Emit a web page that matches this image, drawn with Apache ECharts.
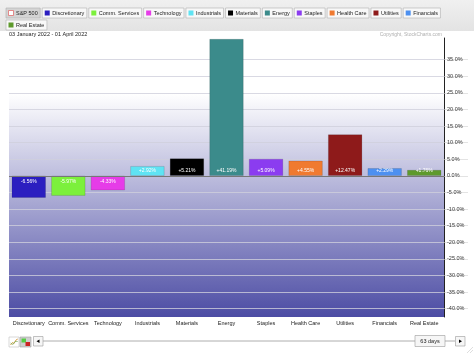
<!DOCTYPE html>
<html>
<head>
<meta charset="utf-8">
<script src="https://cdn.jsdelivr.net/npm/echarts@6/dist/echarts.min.js"></script>
<style>
html, body { margin: 0; padding: 0; background: #fff; }
#chart { width: 474px; height: 355px; }
</style>
</head>
<body>
<div id="chart"></div>
<script>
// sector performance, 03 Jan 2022 - 01 Apr 2022
const sectors = ['Discretionary', 'Comm. Services', 'Technology', 'Industrials', 'Materials', 'Energy',
    'Staples', 'Health Care', 'Utilities', 'Financials', 'Real Estate']
const changes = [-6.56, -5.97, -4.33, 2.92, 5.21, 41.19, 5.09, 4.55, 12.47, 2.29, 1.76]
const colors = ['#2b1ec0', '#7cf03c', '#e63ce8', '#5fe3f3', '#000000', '#3b8b8b',
    '#8b3cf0', '#f07a30', '#8e1a1a', '#4d90f0', '#5e9a2c']
const yTicks = [-40, -35, -30, -25, -20, -15, -10, -5, 0, 5, 10, 15, 20, 25, 30, 35]
const legendNames = ['S&P 500'].concat(sectors)

const FONT = '"Liberation Sans", Arial, Helvetica, sans-serif'

// measure text so the legend buttons fit their labels
const ctx = document.createElement('canvas').getContext('2d')
ctx.font = '5.5px ' + FONT
function textW(s) {
    return ctx.measureText(s).width
}

const graphics = []
// grey band behind the legend buttons
graphics.push({
    type: 'rect',
    shape: { x: 0, y: 0, width: 474, height: 31 },
    style: {
        fill: new echarts.graphic.LinearGradient(0, 0, 0, 1, [
            { offset: 0, color: '#f0f0f0' },
            { offset: 1, color: '#e3e3e3' }
        ])
    }
})
let lx = 6
let ly = 8
legendNames.forEach((name, i) => {
    const w = textW(name) + 12.5
    if (lx + w > 448) {
        lx = 6
        ly += 12
    }
    graphics.push({
        type: 'rect',
        shape: { x: lx, y: ly, width: w, height: 10 },
        style: { fill: i === 0 ? '#d4d4d4' : '#f8f8f8', stroke: '#b0b0b0', lineWidth: 0.6 }
    })
    graphics.push({
        type: 'rect',
        shape: { x: lx + 2.5, y: ly + 2.5, width: 5, height: 5 },
        style: i === 0 ? { fill: '#fff', stroke: '#e07070', lineWidth: 0.8 } : { fill: colors[i - 1] }
    })
    graphics.push({
        type: 'text',
        x: lx + 10,
        y: ly + 5.3,
        style: { text: name, fontSize: 5.5, fontFamily: FONT, fill: '#222', verticalAlign: 'middle' }
    })
    lx += w + 2
})

graphics.push({
    type: 'text', x: 9, y: 34.5,
    style: { text: '03 January 2022 - 01 April 2022', fontSize: 5.5, fontFamily: FONT, fill: '#222', verticalAlign: 'middle' }
})
graphics.push({
    type: 'text', x: 442, y: 34.5,
    style: { text: 'Copyright, StockCharts.com', fontSize: 5, fontFamily: FONT, fill: '#b0b0b0', align: 'right', verticalAlign: 'middle' }
})

// bottom controls
graphics.push(
    { type: 'rect', shape: { x: 9, y: 337, width: 10, height: 10 }, style: { fill: '#fff', stroke: '#c0c0c0', lineWidth: 0.6 } },
    { type: 'polyline', shape: { points: [[10.5, 345], [12.5, 342.5], [14, 343.5], [16, 340], [17.8, 339]] }, style: { stroke: '#d08a20', lineWidth: 0.8, fill: null } },
    { type: 'polyline', shape: { points: [[10.5, 343], [13, 344.5], [15, 341.5], [17.8, 341.5]] }, style: { stroke: '#6aa84f', lineWidth: 0.6, fill: null } },
    { type: 'rect', shape: { x: 20, y: 337, width: 11, height: 10 }, style: { fill: '#cfcfcf', stroke: '#a0a0a0', lineWidth: 0.6 } },
    { type: 'rect', shape: { x: 21.5, y: 338.5, width: 4.5, height: 4 }, style: { fill: '#55cc44' } },
    { type: 'rect', shape: { x: 25.5, y: 342, width: 4.5, height: 4 }, style: { fill: '#cc2222' } },
    { type: 'rect', shape: { x: 33.5, y: 336.5, width: 9.5, height: 9.5 }, style: { fill: '#f6f6f6', stroke: '#9a9a9a', lineWidth: 0.6 } },
    { type: 'polygon', shape: { points: [[36.5, 341.2], [39.5, 339.4], [39.5, 343]] }, style: { fill: '#000' } },
    { type: 'line', shape: { x1: 43, y1: 341, x2: 415, y2: 341 }, style: { stroke: '#9a9a9a', lineWidth: 0.8 } },
    { type: 'rect', shape: { x: 415, y: 335.5, width: 30, height: 11 }, style: { fill: '#f6f6f6', stroke: '#9a9a9a', lineWidth: 0.6 } },
    { type: 'text', x: 430, y: 341.3, style: { text: '63 days', fontSize: 5.5, fontFamily: FONT, fill: '#222', align: 'center', verticalAlign: 'middle' } },
    { type: 'line', shape: { x1: 445, y1: 341, x2: 455, y2: 341 }, style: { stroke: '#9a9a9a', lineWidth: 0.8 } },
    { type: 'rect', shape: { x: 455.5, y: 336.5, width: 9.5, height: 9.5 }, style: { fill: '#f6f6f6', stroke: '#9a9a9a', lineWidth: 0.6 } },
    { type: 'polygon', shape: { points: [[459, 339.4], [462, 341.2], [459, 343]] }, style: { fill: '#000' } },
    { type: 'line', shape: { x1: 467, y1: 353, x2: 473, y2: 347 }, style: { stroke: '#c8c8c8', lineWidth: 0.6 } },
    { type: 'line', shape: { x1: 470, y1: 353, x2: 473, y2: 350 }, style: { stroke: '#c8c8c8', lineWidth: 0.6 } }
)

const barData = changes.map((v, i) => ({
    value: v,
    itemStyle: { color: colors[i] },
    label: { position: v >= 0 ? 'insideBottom' : 'insideTop' }
}))

const chart = echarts.init(document.getElementById('chart'))
chart.setOption({
    backgroundColor: '#fff',
    animation: false,
    textStyle: { fontFamily: FONT },
    graphic: graphics,
    grid: {
        left: 9,
        right: 30,
        top: 38,
        bottom: 38,
        show: true,
        borderWidth: 0,
        backgroundColor: new echarts.graphic.LinearGradient(0, 0, 0, 1, [
            { offset: 0, color: '#ffffff' },
            { offset: 0.2, color: '#ffffff' },
            { offset: 1, color: '#4c4ca4' }
        ])
    },
    xAxis: {
        type: 'category',
        data: sectors,
        axisLine: { show: false },
        axisTick: { show: false },
        axisLabel: { interval: 0, fontSize: 5.5, color: '#222', margin: 3 }
    },
    yAxis: {
        type: 'value',
        position: 'right',
        min: -42.5,
        max: 41.5,
        axisLine: { show: true, lineStyle: { color: '#222', width: 1 } },
        axisTick: { show: true, customValues: yTicks, length: 24, lineStyle: { color: '#d0d0d0', width: 0.6 } },
        axisLabel: {
            customValues: yTicks,
            fontSize: 5.5,
            color: '#333',
            margin: 3,
            padding: [0, 0, 4, 0],
            formatter: v => v.toFixed(1) + '%'
        },
        splitLine: { show: true, lineStyle: { color: '#cfcfdc', width: 0.8 } }
    },
    series: [
        {
            type: 'bar',
            barCategoryGap: '14%',
            data: barData,
            itemStyle: { borderColor: 'rgba(0,0,0,0.25)', borderWidth: 0.5 },
            label: {
                show: true,
                fontSize: 5,
                color: '#fff',
                distance: 3,
                formatter: p => (p.value > 0 ? '+' : '') + p.value.toFixed(2) + '%'
            },
            markLine: {
                silent: true,
                symbol: ['none', 'none'],
                label: { show: false },
                lineStyle: { color: '#777', width: 1, type: 'solid' },
                data: [{ yAxis: 0 }]
            }
        }
    ]
})
</script>
</body>
</html>
